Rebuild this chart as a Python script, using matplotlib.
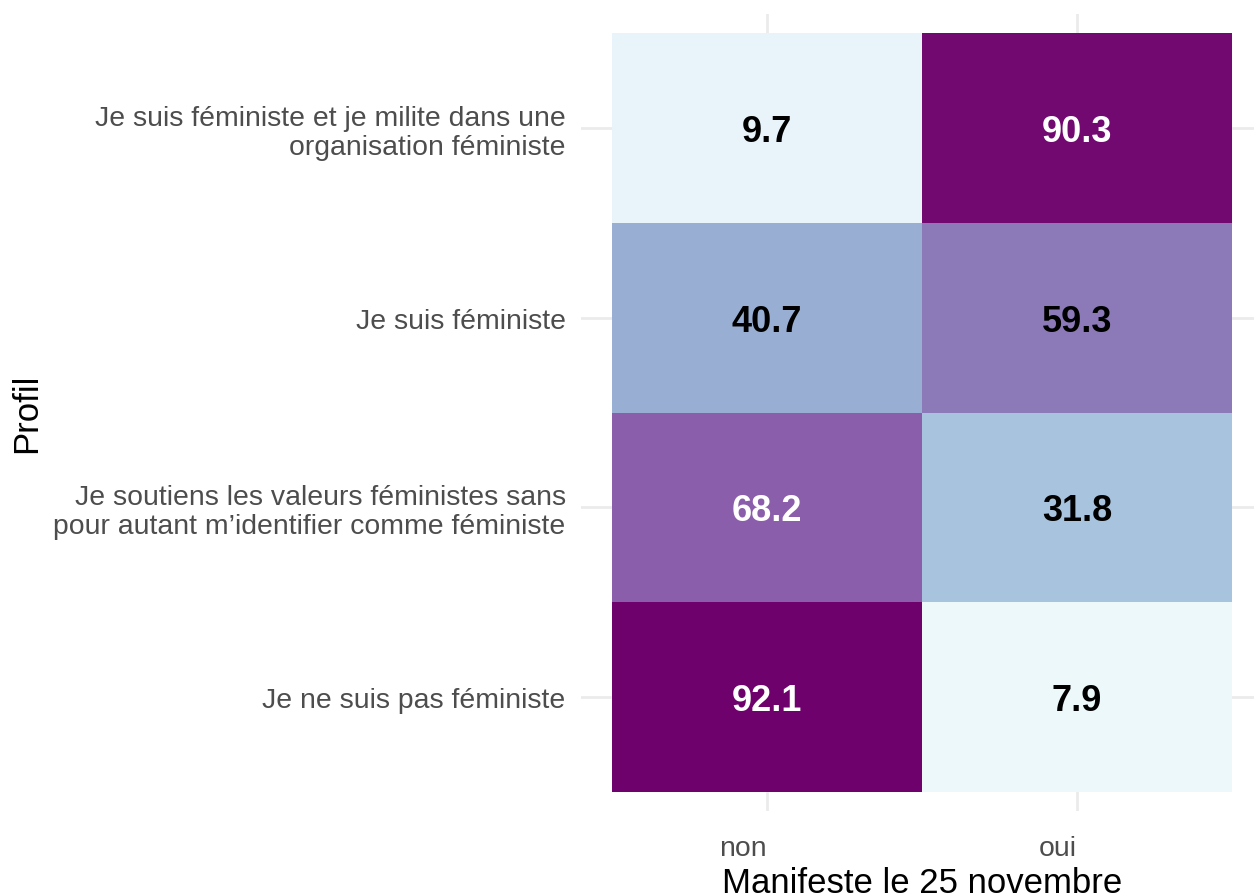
import matplotlib
matplotlib.use('Agg')
import matplotlib.pyplot as plt
import numpy as np
from matplotlib.colors import LinearSegmentedColormap, Normalize

# categories (bottom to top)
profils = ["Je ne suis pas féministe",
           "Je soutiens les valeurs féministes sans\npour autant m’identifier comme féministe",
           "Je suis féministe",
           "Je suis féministe et je milite dans une\norganisation féministe"]
manif = ["non", "oui"]

# percentages per profil
non_vals = [92.1, 68.2, 40.7, 9.7]
oui_vals = [7.9, 31.8, 59.3, 90.3]

plt.rcParams['font.family'] = ['Liberation Sans', 'DejaVu Sans']

# BuPu palette (7 classes)
bupu = ["#EDF8FB", "#BFD3E6", "#9EBCDA", "#8C96C6", "#8C6BB1", "#88419D", "#6E016B"]
cmap = LinearSegmentedColormap.from_list("bupu", bupu)

z = np.array([non_vals, oui_vals]).T  # rows = profils, cols = manif
norm = Normalize(vmin=z.min(), vmax=z.max())

fig = plt.figure(figsize=(12.54, 8.95), dpi=100)
ax = fig.add_axes([581/1254, 1-812/895, (1263-581)/1254, (812-15)/895])

xe = np.arange(len(manif) + 1) + 0.5
ye = np.arange(len(profils) + 1) + 0.5
ax.pcolormesh(xe, ye, z, cmap=cmap, norm=norm, zorder=2)

# half the digit height in data units, so digits sit centred on the tile
half_cap = 13 / 190
for i in range(len(profils)):
    for j in range(len(manif)):
        v = z[i, j]
        col = 'white' if v > 60 else 'black'
        ax.text(j + 1, i + 1 - half_cap, f"{v:.1f}", ha='center', va='baseline',
                fontsize=26, fontweight='bold', color=col, zorder=3)

ax.set_xlim(0.4, 2.6)
ax.set_ylim(0.4, 4.6)
ax.set_xticks(np.arange(1, len(manif) + 1))
ax.set_xticklabels(manif, ha='right')
ax.set_yticks(np.arange(1, len(profils) + 1))
ax.set_yticklabels(profils, linespacing=1.15)
ax.tick_params(axis='both', length=0, labelsize=20.4, labelcolor='#4d4d4d')
ax.tick_params(axis='y', pad=11)
ax.tick_params(axis='x', pad=17)

ax.grid(True, color='#ebebeb', linewidth=2, zorder=0)
ax.set_axisbelow(True)
for s in ax.spines.values():
    s.set_visible(False)

ax.set_xlabel("Manifeste le 25 novembre", fontsize=25, color='black', labelpad=4)
ax.set_ylabel("Profil", fontsize=25, color='black')
ax.yaxis.set_label_coords(-0.789, 0.5)

fig.savefig("out.png", dpi=100)
